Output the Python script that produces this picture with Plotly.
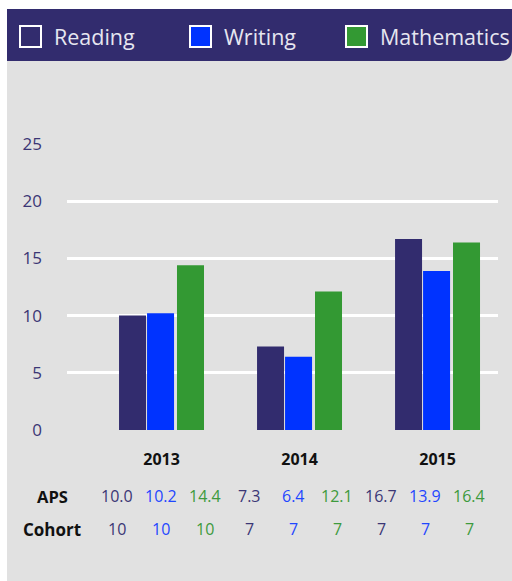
import plotly.graph_objects as go

years = ["2013", "2014", "2015"]
series_names = ["Reading", "Writing", "Mathematics"]
reading = [10.0, 7.3, 16.7]
writing = [10.2, 6.4, 13.9]
mathematics = [14.4, 12.1, 16.4]
cohort_reading = [10, 7, 7]
cohort_writing = [10, 7, 7]
cohort_math = [10, 7, 7]
y_ticks = [0, 5, 10, 15, 20, 25]

NAVY = "#322c6e"
BLUE = "#0033ff"
GREEN = "#339933"
GRAY = "#e1e1e1"
TXT_NAVY = "#3b3675"
TXT_BLUE = "#1f47ff"
TXT_GREEN = "#3d9a3d"
FONT = "Open Sans"

W, H = 512, 581
L, R, T, B = 67, 14, 144, 151
PW = W - L - R
PH = H - T - B


def px(x):
    return (x - L) / PW


def py(y):
    return (H - B - y) / PH


colors = [NAVY, BLUE, GREEN]
values = [reading, writing, mathematics]
offsets = [-0.308, -0.105, 0.112]

fig = go.Figure()
for name, vals, col, off in zip(series_names, values, colors, offsets):
    fig.add_trace(go.Bar(
        x=years, y=vals, name=name, marker=dict(color=col, line=dict(width=0)),
        offset=off, width=0.1957, showlegend=False, hoverinfo="x+y+name"))

shapes = []
# gray panel
shapes.append(dict(type="rect", xref="paper", yref="paper", x0=px(7), x1=px(W + 2),
                   y0=py(H + 2), y1=py(9), fillcolor=GRAY, line=dict(width=0), layer="below"))
# header band with rounded bottom-right corner
rx, ry = 12 / PW, 12 / PH
x0, x1, yt, yb = px(7), px(W), py(9), py(61)
path = (f"M{x0},{yt} L{x1},{yt} L{x1},{yb + ry} Q{x1},{yb} {x1 - rx},{yb} "
        f"L{x0},{yb} Z")
shapes.append(dict(type="path", xref="paper", yref="paper", path=path,
                   fillcolor=NAVY, line=dict(width=0), layer="below"))

annotations = []
legend_sq = [20, 190, 346]
legend_tx = [52, 222, 378]
fills = [NAVY, BLUE, GREEN]
for name, sx, tx, fc in zip(series_names, legend_sq, legend_tx, fills):
    shapes.append(dict(type="rect", xref="paper", yref="paper", x0=px(sx), x1=px(sx + 21),
                       y0=py(47), y1=py(26), fillcolor=fc, line=dict(color="white", width=2),
                       layer="above"))
    annotations.append(dict(xref="paper", yref="paper", x=px(tx), y=py(37), text=name,
                            showarrow=False, xanchor="left", yanchor="middle",
                            font=dict(family=FONT, size=21.5, color="#e6e6f0")))

# table rows
annotations.append(dict(xref="paper", yref="paper", x=px(52), y=py(496), text="<b>APS</b>",
                        showarrow=False, xanchor="center", yanchor="middle",
                        font=dict(family=FONT, size=16.5, color="#111111")))
annotations.append(dict(xref="paper", yref="paper", x=px(52), y=py(529), text="<b>Cohort</b>",
                        showarrow=False, xanchor="center", yanchor="middle",
                        font=dict(family=FONT, size=17, color="#111111")))
txt_cols = [TXT_NAVY, TXT_BLUE, TXT_GREEN]
cohorts = [cohort_reading, cohort_writing, cohort_math]
col_x0, col_dx = 117, 44
for yi in range(len(years)):
    for si in range(3):
        cx = col_x0 + col_dx * (yi * 3 + si)
        annotations.append(dict(xref="paper", yref="paper", x=px(cx), y=py(496),
                                text=f"{values[si][yi]:.1f}", showarrow=False,
                                xanchor="center", yanchor="middle",
                                font=dict(family=FONT, size=16, color=txt_cols[si])))
        annotations.append(dict(xref="paper", yref="paper", x=px(cx), y=py(529),
                                text=f"{cohorts[si][yi]}", showarrow=False,
                                xanchor="center", yanchor="middle",
                                font=dict(family=FONT, size=16, color=txt_cols[si])))

fig.update_layout(
    width=W, height=H, margin=dict(l=L, r=R, t=T, b=B, pad=0),
    paper_bgcolor="white", plot_bgcolor="rgba(0,0,0,0)",
    barmode="group", showlegend=False,
    font=dict(family=FONT),
    shapes=shapes, annotations=annotations,
    xaxis=dict(type="category", range=[-0.685, 2.438], showgrid=False, zeroline=False,
               showline=False, ticks="", tickvals=years,
               ticktext=[f"<b>{y}</b>" for y in years],
               tickfont=dict(family=FONT, size=16, color="#111111"),
               ticklabelstandoff=18, fixedrange=True),
    yaxis=dict(range=[0, 25], tickvals=y_ticks, showgrid=True, gridcolor="white",
               gridwidth=3, zeroline=False, showline=False, ticks="",
               tickfont=dict(family=FONT, size=17, color=TXT_NAVY),
               ticklabelstandoff=24, fixedrange=True),
)

fig.write_html(
    "out.html",
    config={"displayModeBar": False},
    post_script="document.body.style.margin='0';document.body.style.overflow='hidden';",
)
